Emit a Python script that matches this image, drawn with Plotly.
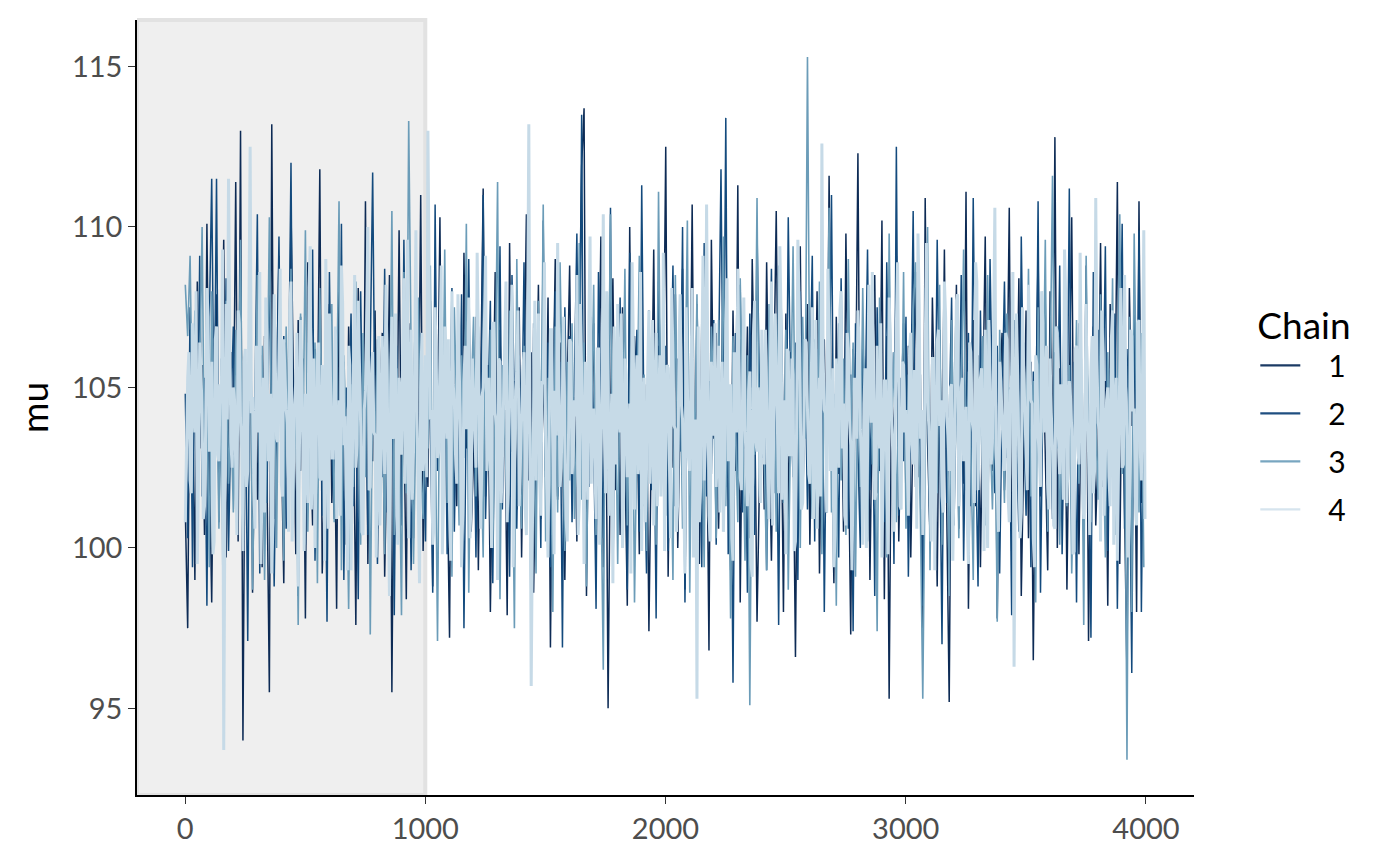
import numpy as np
import plotly.graph_objects as go

N_ITER = 4000
N_WARMUP = 1000
THIN = 10  # values below are read every THIN iterations

chain1 = [
    101.2, 97.5, 106.8, 104.9, 99.0, 108.3, 103.1, 105.7, 100.4, 110.1, 102.6, 98.3, 105.2, 107.9, 101.8, 104.4, 109.6, 99.7, 103.5, 106.1,
    102.9, 111.4, 100.2, 113.0, 94.0, 105.6, 103.8, 108.7, 98.6, 104.1, 101.5, 107.3, 99.4, 106.6, 102.2, 95.5, 113.2, 100.9, 105.0, 109.1,
    103.3, 98.9, 106.4, 101.0, 110.6, 104.7, 99.8, 107.1, 102.4, 105.9, 97.8, 108.9, 103.6, 100.7, 106.2, 104.0, 111.8, 99.2, 102.8, 105.4,
    107.6, 101.4, 104.6, 98.1, 109.4, 103.0, 105.8, 100.1, 106.9, 102.1, 104.3, 97.6, 108.1, 103.7, 101.1, 110.8, 99.5, 105.3, 102.7, 107.4,
    100.6, 104.8, 106.7, 99.1, 103.2, 108.5, 95.5, 105.1, 102.0, 109.9, 101.7, 104.2, 98.4, 107.0, 103.9, 100.3, 106.3, 102.5, 111.0, 99.9,
    104.5, 101.9, 107.7, 98.8, 105.5, 103.4, 110.3, 100.8, 106.0, 102.3, 97.2, 108.0, 104.0, 101.3, 105.9, 99.6, 109.2, 103.1, 106.5, 100.5,
    102.8, 107.2, 99.3, 104.9, 111.2, 101.6, 105.7, 98.0, 103.6, 108.6, 100.0, 106.8, 102.6, 104.3, 97.9, 109.5, 103.0, 105.2, 101.2, 107.5,
    99.7, 104.6, 110.4, 102.1, 106.1, 98.6, 103.8, 108.2, 100.9, 105.6, 102.4, 107.8, 96.9, 104.1, 109.0, 101.5, 106.4, 103.3, 99.0, 105.0,
    108.8, 102.0, 104.7, 100.2, 106.9, 111.9, 113.7, 98.5, 105.3, 103.5, 107.0, 101.0, 104.4, 109.7, 99.4, 106.2, 95.0, 103.9, 108.4, 101.8,
    105.8, 100.4, 107.5, 103.2, 98.2, 110.0, 102.7, 106.6, 104.8, 99.8, 108.1, 101.3, 105.1, 97.4, 103.7, 109.3, 100.7, 106.3, 102.2, 104.5,
    112.5, 99.1, 105.4, 102.5, 107.9, 100.0, 104.0, 108.7, 98.7, 106.0, 103.0, 110.7, 101.6, 105.7, 99.5, 107.1, 102.9, 104.6, 96.8, 109.6,
    103.4, 106.7, 100.6, 105.0, 108.3, 101.9, 104.2, 99.3, 107.4, 102.4, 111.3, 98.3, 105.5, 103.1, 106.9, 100.3, 109.0, 104.7, 97.7, 102.0,
    106.4, 101.2, 108.9, 103.6, 99.6, 105.2, 110.5, 102.6, 104.9, 98.0, 107.3, 100.8, 106.1, 103.8, 96.6, 105.8, 109.4, 101.4, 104.1, 107.6,
    100.1, 105.3, 102.7, 108.0, 99.2, 104.4, 106.5, 101.1, 111.6, 103.2, 98.9, 107.2, 102.3, 105.6, 100.5, 109.8, 103.5, 97.3, 106.2, 104.0,
    112.3, 100.9, 105.9, 102.1, 107.7, 99.0, 104.8, 108.5, 101.7, 103.0, 110.2, 98.4, 106.6, 95.3, 105.1, 102.8, 109.1, 100.2, 104.3, 107.0,
    101.5, 106.3, 99.7, 104.6, 108.6, 102.2, 105.4, 97.0, 110.9, 103.3, 100.4, 107.8, 104.0, 98.8, 106.8, 102.5, 109.3, 101.0, 95.2, 105.7,
    103.7, 108.2, 100.6, 105.0, 102.0, 111.1, 98.1, 104.5, 107.1, 101.3, 106.0, 99.4, 103.9, 109.7, 100.8, 105.5, 102.4, 107.5, 97.8, 104.9,
    106.7, 101.8, 104.2, 110.6, 99.9, 105.3, 102.9, 108.4, 98.5, 103.6, 107.4, 100.3, 105.8, 96.5, 104.1, 109.2, 101.6, 106.5, 103.0, 99.3,
    108.0, 102.6, 112.8, 100.0, 105.6, 103.4, 107.0, 98.7, 104.7, 110.3, 101.1, 106.2, 99.8, 105.0, 102.1, 108.8, 97.1, 104.4, 106.9, 100.7,
    103.1, 109.5, 101.9, 105.2, 98.2, 107.6, 102.8, 104.0, 111.4, 99.5, 106.4, 100.9, 96.0, 108.1, 103.8, 105.9, 98.0, 110.8, 101.4, 103.2,
]

chain2 = [
    104.8, 100.3, 107.5, 99.4, 106.2, 102.0, 109.1, 101.6, 105.3, 98.2, 107.0, 111.5, 103.4, 111.5, 100.8, 105.9, 102.7, 108.4, 99.9, 104.1,
    106.9, 101.2, 103.8, 108.9, 100.0, 105.5, 97.1, 107.8, 102.3, 104.6, 110.4, 99.2, 106.0, 103.0, 101.4, 108.2, 105.1, 98.8, 104.3, 109.7,
    102.5, 106.6, 100.6, 104.9, 112.0, 101.8, 105.7, 98.5, 107.2, 103.6, 100.1, 106.4, 102.9, 109.3, 99.6, 104.4, 107.6, 101.0, 105.2, 97.7,
    108.6, 103.2, 100.9, 106.8, 102.1, 110.1, 99.0, 105.0, 103.9, 107.3, 101.3, 104.7, 98.4, 108.0, 102.6, 105.8, 100.4, 106.1, 111.7, 103.5,
    99.5, 105.4, 102.2, 108.7, 101.1, 104.0, 107.1, 97.9, 106.3, 103.1, 100.7, 109.6, 102.8, 105.6, 99.3, 104.5, 108.3, 101.5, 106.7, 103.7,
    100.2, 107.4, 104.2, 98.6, 110.7, 102.4, 105.9, 101.7, 106.5, 99.8, 103.3, 108.1, 100.5, 105.2, 102.0, 107.9, 97.5, 104.8, 109.0, 101.9,
    105.1, 99.7, 106.9, 103.0, 111.0, 100.9, 104.6, 107.7, 98.9, 105.7, 102.5, 109.4, 101.2, 106.2, 103.8, 99.1, 108.5, 104.0, 100.6, 106.0,
    102.9, 108.9, 101.4, 104.7, 97.3, 107.0, 103.4, 105.5, 100.0, 110.2, 102.2, 106.4, 99.4, 104.1, 108.0, 101.6, 105.8, 96.9, 107.5, 103.1,
    106.6, 100.8, 104.9, 109.8, 102.7, 113.5, 99.6, 105.4, 101.9, 107.2, 103.5, 98.1, 108.6, 104.4, 100.3, 106.1, 102.4, 110.6, 99.0, 105.0,
    103.6, 107.8, 101.0, 105.6, 98.7, 109.2, 102.9, 104.3, 106.8, 100.5, 111.3, 103.2, 99.2, 107.4, 101.8, 105.3, 97.8, 108.3, 104.6, 102.1,
    106.3, 99.9, 104.0, 108.8, 101.3, 105.9, 103.0, 110.0, 98.3, 106.5, 102.6, 104.8, 100.7, 107.6, 103.9, 99.4, 109.5, 101.6, 105.2, 102.3,
    107.1, 100.1, 105.7, 111.8, 103.3, 113.4, 99.8, 104.5, 95.8, 106.7, 102.0, 108.2, 101.1, 104.9, 98.6, 107.3, 103.6, 100.4, 109.9, 105.0,
    102.8, 106.0, 99.3, 104.2, 108.7, 101.7, 105.5, 97.6, 107.9, 103.1, 100.9, 110.3, 104.6, 102.2, 106.4, 99.0, 108.0, 103.4, 105.8, 101.2,
    104.7, 109.1, 100.2, 106.2, 102.5, 107.7, 98.0, 105.1, 103.7, 111.0, 101.5, 104.1, 99.7, 108.4, 102.9, 106.8, 100.6, 105.4, 97.4, 107.0,
    103.0, 100.0, 106.5, 104.3, 109.3, 101.8, 105.6, 98.5, 107.5, 102.4, 104.9, 100.8, 108.9, 103.5, 106.1, 99.5, 112.5, 101.0, 105.3, 102.7,
    107.2, 99.1, 104.4, 110.5, 101.9, 106.0, 103.2, 98.2, 108.1, 104.8, 100.3, 105.7, 102.1, 109.6, 103.8, 97.0, 106.9, 101.4, 104.0, 107.8,
    100.7, 105.2, 102.6, 108.5, 99.6, 104.6, 106.7, 101.3, 110.9, 103.3, 98.8, 107.4, 102.0, 105.9, 100.1, 109.0, 104.2, 101.7, 106.3, 99.2,
    104.5, 108.3, 102.8, 105.0, 97.9, 107.1, 103.6, 100.5, 109.7, 104.1, 101.0, 106.6, 99.4, 105.5, 102.3, 110.8, 98.6, 104.7, 107.6, 101.8,
    105.3, 100.9, 106.1, 103.1, 108.8, 99.8, 104.9, 102.5, 111.2, 101.2, 105.8, 98.3, 107.0, 103.7, 100.2, 106.4, 104.3, 97.2, 108.6, 102.9,
    106.8, 101.5, 104.0, 109.4, 99.9, 105.6, 102.2, 107.3, 98.1, 104.6, 110.1, 100.6, 106.2, 103.4, 96.1, 108.0, 101.0, 109.9, 98.0, 105.1,
]

chain3 = [
    108.2, 106.6, 109.1, 103.9, 107.4, 101.8, 105.2, 110.0, 102.3, 104.7, 99.4, 108.0, 103.0, 106.1, 100.6, 105.5, 95.5, 107.7, 102.0, 104.3,
    101.1, 106.8, 103.5, 109.6, 100.2, 105.0, 102.7, 107.9, 98.7, 104.5, 108.5, 101.5, 106.3, 99.0, 103.8, 110.3, 102.4, 105.8, 100.0, 107.1,
    104.0, 99.6, 106.9, 102.1, 108.7, 101.0, 105.4, 97.6, 107.3, 103.2, 109.9, 100.5, 104.8, 102.6, 106.4, 98.9, 108.1, 103.6, 101.3, 105.7,
    102.8, 107.6, 100.8, 104.2, 110.8, 99.3, 106.0, 103.4, 98.1, 105.1, 101.9, 108.3, 104.6, 100.1, 106.7, 102.2, 109.2, 97.3, 105.3, 103.0,
    106.5, 101.2, 104.9, 99.8, 107.0, 102.9, 110.5, 100.4, 105.6, 103.7, 97.9, 108.6, 101.7, 113.3, 106.2, 99.5, 104.1, 107.8, 102.5, 100.9,
    105.9, 103.1, 108.8, 100.3, 104.4, 97.1, 106.6, 102.0, 109.3, 101.4, 105.2, 99.1, 107.5, 103.9, 100.7, 106.0, 102.8, 110.1, 98.6, 104.6,
    107.2, 101.6, 105.0, 103.3, 99.7, 108.4, 102.4, 106.8, 100.0, 104.7, 111.4, 98.4, 105.7, 103.6, 101.0, 107.4, 104.2, 97.5, 109.0, 102.7,
    100.6, 106.3, 103.0, 108.0, 101.8, 104.9, 99.2, 107.7, 102.5, 110.7, 100.2, 105.3, 103.8, 98.0, 106.9, 101.1, 108.9, 104.5, 99.9, 105.8,
    102.1, 107.0, 100.9, 104.0, 109.5, 101.5, 106.4, 98.8, 105.1, 103.2, 108.2, 100.4, 104.8, 102.3, 96.2, 107.6, 103.5, 110.4, 101.2, 105.6,
    99.5, 106.1, 102.9, 108.7, 100.7, 104.3, 106.7, 98.3, 103.7, 109.1, 101.9, 105.4, 99.9, 107.3, 102.6, 104.9, 100.1, 111.1, 103.3, 106.5,
    101.0, 105.7, 103.9, 99.0, 108.5, 102.2, 106.2, 100.6, 104.5, 110.2, 98.6, 105.9, 103.0, 107.9, 101.7, 104.1, 99.4, 108.0, 102.8, 106.9,
    104.6, 100.3, 107.1, 102.4, 109.7, 101.3, 105.3, 97.8, 106.6, 103.5, 100.8, 108.4, 104.2, 99.6, 106.0, 95.1, 105.0, 102.9, 110.9, 101.6,
    106.3, 103.1, 99.3, 107.6, 102.0, 105.5, 100.5, 108.8, 103.8, 101.4, 106.8, 98.7, 104.7, 109.4, 102.5, 105.8, 100.0, 107.2, 103.4, 115.3,
    104.0, 100.9, 106.5, 102.7, 108.3, 99.8, 105.2, 103.6, 110.6, 101.1, 104.8, 98.2, 107.0, 102.1, 105.9, 100.4, 109.0, 103.3, 106.4, 99.1,
    105.6, 101.9, 108.1, 103.0, 100.2, 106.7, 102.6, 104.4, 97.4, 107.8, 101.5, 105.1, 99.7, 109.8, 103.7, 106.1, 100.8, 104.6, 102.3, 108.6,
    100.6, 105.4, 103.2, 107.4, 108.9, 104.1, 101.0, 95.3, 102.8, 110.0, 99.3, 105.7, 103.5, 101.7, 108.2, 100.1, 106.3, 104.9, 98.5, 107.1,
    102.4, 106.0, 100.3, 104.7, 109.3, 101.8, 105.5, 103.1, 99.0, 107.7, 102.1, 104.3, 106.6, 100.7, 108.5, 103.8, 101.2, 105.0, 97.7, 106.8,
    103.9, 101.4, 107.3, 102.9, 105.8, 99.6, 106.2, 104.5, 100.9, 106.4, 103.3, 108.7, 101.6, 105.2, 98.3, 107.5, 102.6, 104.0, 109.6, 100.5,
    105.3, 111.6, 102.2, 106.9, 100.1, 104.6, 108.0, 101.3, 105.7, 99.2, 103.6, 107.1, 102.0, 105.9, 97.6, 109.1, 103.0, 100.8, 106.5, 104.2,
    101.5, 107.9, 103.4, 99.7, 106.1, 102.7, 108.4, 100.4, 104.8, 110.4, 102.3, 105.5, 93.4, 107.2, 98.0, 109.8, 104.3, 101.1, 106.7, 99.4,
]

# chain 4 is read at twice the density: values at iterations 1, 11, 21, ...
chain4 = [
    100.8, 105.3, 102.1, 107.0, 103.6, 99.5, 106.4, 104.2, 101.3, 108.1, 103.0, 105.8, 100.2, 106.9, 102.7, 104.5, 93.7, 107.6, 111.5, 103.3,
    105.0, 101.6, 107.4, 103.9, 99.9, 106.2, 102.4, 112.5, 104.7, 100.6, 105.6, 108.6, 102.9, 101.1, 106.7, 104.0, 99.2, 107.9, 103.4, 105.5,
    102.0, 106.5, 104.3, 100.5, 108.3, 103.1, 105.2, 98.8, 107.1, 102.6, 104.8, 101.4, 109.4, 103.7, 100.0, 106.0, 102.2, 105.7, 99.6, 104.4,
    107.3, 102.8, 105.1, 100.9, 104.6, 108.8, 103.2, 101.7, 106.3, 99.3, 105.4, 102.5, 107.7, 103.8, 100.4, 104.9, 110.0, 101.9, 106.1, 103.5,
    104.1, 100.7, 106.6, 102.3, 105.9, 98.5, 107.2, 103.6, 101.0, 105.3, 102.9, 108.4, 104.5, 100.3, 106.8, 103.0, 109.9, 101.5, 105.0, 102.4,
    106.0, 113.0, 104.0, 100.1, 107.5, 102.8, 105.6, 99.8, 106.9, 103.4, 101.2, 108.0, 104.6, 102.0, 106.3, 99.4, 105.2, 103.7, 107.8, 101.6,
    104.8, 102.5, 106.4, 100.6, 105.0, 109.1, 103.1, 101.8, 107.0, 104.2, 99.0, 105.8, 102.7, 106.6, 100.8, 104.4, 108.2, 103.0, 105.5, 101.3,
    103.8, 106.1, 100.4, 113.2, 95.7, 104.7, 102.1, 107.3, 101.0, 105.1, 103.5, 99.7, 106.8, 102.6, 104.9, 109.5, 101.9, 105.4, 103.2, 100.2,
    106.5, 102.3, 104.6, 108.5, 101.4, 105.7, 99.5, 103.9, 107.1, 102.0, 104.3, 100.9, 106.2, 103.3, 110.4, 101.7, 105.0, 102.8, 98.9, 104.8,
    107.6, 103.6, 100.0, 105.9, 102.2, 104.5, 108.9, 101.2, 106.0, 103.0, 99.9, 105.3, 102.5, 107.4, 104.1, 100.7, 106.7, 103.4, 101.6, 109.2,
    102.9, 105.6, 100.3, 106.4, 103.7, 101.5, 107.9, 104.0, 99.2, 105.2, 102.4, 108.1, 103.1, 95.3, 100.8, 104.7, 102.1, 110.7, 101.0, 105.8,
    103.5, 101.9, 106.3, 104.4, 100.5, 107.0, 102.7, 105.1, 99.6, 104.9, 108.7, 102.2, 106.0, 103.8, 101.3, 105.5, 99.1, 107.7, 103.0, 104.2,
    106.8, 102.6, 104.6, 100.9, 108.3, 103.3, 105.7, 101.7, 107.2, 104.1, 99.8, 106.1, 102.9, 105.4, 100.2, 109.6, 103.6, 101.4, 106.5, 104.8,
    102.0, 107.5, 103.9, 100.6, 105.3, 112.6, 104.3, 101.1, 106.6, 103.0, 99.4, 105.9, 102.5, 108.0, 104.5, 100.7, 106.2, 103.2, 101.8, 105.0,
    107.4, 103.7, 100.1, 105.6, 102.8, 104.9, 108.6, 101.5, 106.3, 103.1, 99.7, 105.2, 102.3, 107.8, 104.0, 100.5, 106.9, 103.5, 101.2, 105.7,
    104.3, 101.0, 106.7, 102.6, 105.5, 109.8, 103.4, 100.4, 107.1, 104.6, 102.1, 105.9, 99.3, 106.4, 103.8, 101.6, 108.3, 104.1, 102.4, 105.1,
    103.0, 107.7, 101.3, 105.0, 102.7, 104.4, 99.5, 106.1, 103.6, 108.9, 101.8, 105.3, 102.2, 106.8, 100.0, 104.7, 103.3, 110.6, 101.5, 105.8,
    104.0, 102.4, 106.5, 100.8, 105.4, 96.3, 107.3, 103.2, 101.1, 105.6, 102.9, 108.2, 104.6, 100.3, 106.0, 103.5, 101.9, 107.0, 104.2, 102.0,
    105.9, 103.1, 100.6, 106.7, 102.3, 104.8, 109.3, 101.4, 105.2, 103.7, 99.9, 106.3, 102.6, 104.5, 100.9, 107.6, 103.0, 105.5, 101.7, 110.9,
    103.9, 100.2, 106.1, 102.8, 105.0, 101.3, 107.4, 104.1, 99.6, 105.7, 102.5, 108.5, 103.4, 101.0, 106.6, 104.3, 100.7, 107.1, 102.1, 109.9,
]

# ... and at the iterations in between (6, 16, 26, ...)
chain4_between = [
    103.4, 106.1, 101.7, 104.9, 108.0, 102.2, 105.6, 100.9, 103.8, 107.2, 104.4, 99.8, 106.5, 102.9, 105.1, 109.3, 101.4, 104.0, 106.8, 102.5,
    104.6, 100.4, 107.0, 103.1, 105.8, 101.9, 108.4, 104.2, 102.0, 106.3, 103.6, 99.5, 105.3, 107.8, 102.7, 104.8, 100.8, 106.0, 103.3, 108.7,
    101.6, 105.0, 103.9, 107.4, 100.2, 104.5, 106.7, 102.3, 105.5, 99.9, 103.7, 108.1, 101.2, 105.9, 103.0, 106.4, 102.1, 104.7, 109.0, 100.6,
    105.2, 102.8, 106.9, 103.5, 101.0, 107.6, 104.1, 99.3, 105.7, 102.4, 108.5, 103.2, 106.2, 100.5, 104.3, 107.1, 101.8, 105.4, 103.6, 99.7,
    106.6, 102.6, 104.9, 108.2, 101.3, 105.0, 103.4, 107.3, 100.1, 104.6, 106.1, 102.0, 109.6, 103.9, 101.5, 105.8, 104.0, 98.9, 106.7, 103.1,
    102.2, 107.5, 104.3, 100.7, 105.6, 103.0, 108.8, 101.6, 104.8, 106.5, 99.6, 105.1, 102.9, 107.9, 103.7, 101.1, 106.3, 104.5, 100.3, 105.9,
    103.2, 109.2, 101.9, 104.7, 106.9, 102.4, 105.3, 100.0, 107.0, 103.8, 105.9, 101.4, 104.2, 108.3, 102.7, 106.0, 99.4, 104.9, 107.4, 103.0,
    105.5, 101.2, 106.6, 103.6, 100.6, 107.7, 104.4, 102.1, 105.2, 108.9, 101.7, 104.0, 106.8, 99.8, 103.5, 105.7, 102.5, 107.2, 100.9, 104.6,
    106.4, 102.9, 104.1, 100.4, 107.6, 103.3, 105.8, 101.5, 109.7, 104.3, 102.2, 106.2, 100.1, 105.0, 103.7, 108.0, 101.0, 104.8, 106.9, 102.6,
    104.0, 107.3, 101.8, 105.4, 103.1, 99.2, 106.5, 104.7, 102.3, 108.6, 103.9, 100.8, 105.6, 102.0, 107.1, 104.2, 101.3, 106.0, 103.4, 99.9,
    105.7, 102.5, 108.1, 103.8, 100.5, 106.3, 104.5, 101.6, 107.5, 102.8, 105.1, 99.7, 104.0, 106.9, 101.9, 109.1, 103.2, 105.5, 100.2, 104.4,
    107.0, 103.0, 101.1, 105.8, 102.6, 108.4, 104.1, 100.3, 106.1, 103.6, 105.3, 101.8, 107.8, 102.1, 104.9, 99.5, 106.6, 103.3, 105.0, 101.4,
    104.3, 106.8, 102.0, 105.2, 100.7, 107.3, 103.5, 109.4, 101.5, 104.6, 106.2, 102.9, 105.9, 99.9, 103.9, 107.7, 101.2, 104.8, 106.4, 102.3,
    105.4, 100.9, 107.1, 103.7, 101.6, 106.0, 104.2, 108.7, 102.4, 105.6, 100.4, 104.7, 107.4, 103.1, 101.0, 106.7, 104.0, 99.3, 105.3, 103.4,
    106.3, 102.7, 104.5, 100.0, 108.2, 103.9, 105.7, 101.7, 104.1, 107.0, 102.2, 105.2, 99.8, 106.5, 103.0, 104.9, 108.9, 101.3, 105.8, 103.6,
    101.9, 106.2, 103.2, 105.5, 100.6, 107.6, 104.3, 102.5, 109.5, 103.8, 100.2, 105.9, 102.8, 106.8, 104.6, 101.1, 107.2, 103.5, 105.0, 99.6,
    104.8, 107.9, 102.1, 105.3, 103.3, 100.8, 106.4, 104.0, 101.4, 108.3, 103.7, 105.6, 99.9, 104.4, 107.1, 102.6, 106.1, 103.1, 100.5, 105.2,
    103.0, 106.7, 101.6, 104.9, 108.6, 102.3, 105.4, 100.3, 107.5, 103.9, 101.8, 106.0, 104.5, 99.4, 105.7, 102.9, 108.0, 103.6, 106.3, 101.2,
    104.2, 100.7, 106.9, 103.4, 105.1, 101.5, 107.8, 102.8, 104.7, 99.8, 106.2, 103.2, 109.2, 101.9, 105.5, 104.0, 100.4, 106.6, 102.4, 105.9,
    103.7, 107.4, 101.0, 104.6, 102.2, 106.5, 100.1, 105.3, 103.9, 108.1, 102.6, 105.0, 99.7, 106.8, 104.3, 101.6, 107.0, 103.1, 105.6, 100.9,
]

chains = ["1", "2", "3", "4"]
chain_colors = ["#0d2b55", "#134a7d", "#6b9cb8", "#c6dae7"]
legend_colors = ["#1b3a64", "#1f4e80", "#78a6c0", "#d6e4ee"]
chain_widths = [1.5, 1.5, 1.6, 3.0]

x_ticks = [0, 1000, 2000, 3000, 4000]
y_ticks = [95, 100, 105, 110, 115]

FONT = "Lato, Source Sans Pro, sans-serif"
NBSP = "\u00a0"

iters = np.arange(1, N_ITER, THIN)
iters4 = np.column_stack([iters, iters + THIN // 2]).ravel()
vals4 = np.column_stack([chain4, chain4_between]).ravel()

series = [(iters, chain1), (iters, chain2), (iters, chain3), (iters4, vals4)]

fig = go.Figure()
for name, (xs, ys), col, w in zip(chains, series, chain_colors, chain_widths):
    fig.add_trace(go.Scatter(
        x=xs, y=ys, mode="lines", name=name, legendgroup=name,
        showlegend=False, line=dict(color=col, width=w),
    ))

# legend keys (no data drawn)
for name, col in zip(chains, legend_colors):
    fig.add_trace(go.Scatter(
        x=[None], y=[None], mode="lines", name=NBSP * 3 + name,
        legendgroup=name, showlegend=True, line=dict(color=col, width=2.2),
    ))

fig.add_shape(
    type="rect", xref="x", yref="paper", x0=-200, x1=N_WARMUP, y0=0, y1=1,
    fillcolor="#efefef", line=dict(color="#e2e2e2", width=4), layer="below",
)

fig.update_layout(
    width=1392, height=857,
    margin=dict(l=129, r=206, t=12, b=70),
    paper_bgcolor="white", plot_bgcolor="white",
    font=dict(family=FONT, size=29, color="#4d4d4d"),
    showlegend=True,
    legend=dict(
        title=dict(text="Chain", font=dict(size=37, color="black")),
        font=dict(size=30, color="black"),
        x=1.058, xanchor="left", y=0.492, yanchor="middle",
        tracegroupgap=6, itemwidth=40,
    ),
    xaxis=dict(
        range=[-200, 4200], tickvals=x_ticks, ticks="outside", ticklen=7,
        tickwidth=1.3, tickcolor="#333333", showline=True, linecolor="black",
        linewidth=1.6, showgrid=False, zeroline=False,
        tickfont=dict(size=29, color="#4d4d4d"),
    ),
    yaxis=dict(
        range=[92.3, 116.45], tickvals=y_ticks, ticks="outside", ticklen=7,
        tickwidth=1.3, tickcolor="#333333", showline=True, linecolor="black",
        linewidth=1.6, showgrid=False, zeroline=False,
        tickfont=dict(size=29, color="#4d4d4d"),
        title=dict(text="mu", font=dict(size=37, color="black"), standoff=12),
    ),
)

fig.write_html("out.html")
